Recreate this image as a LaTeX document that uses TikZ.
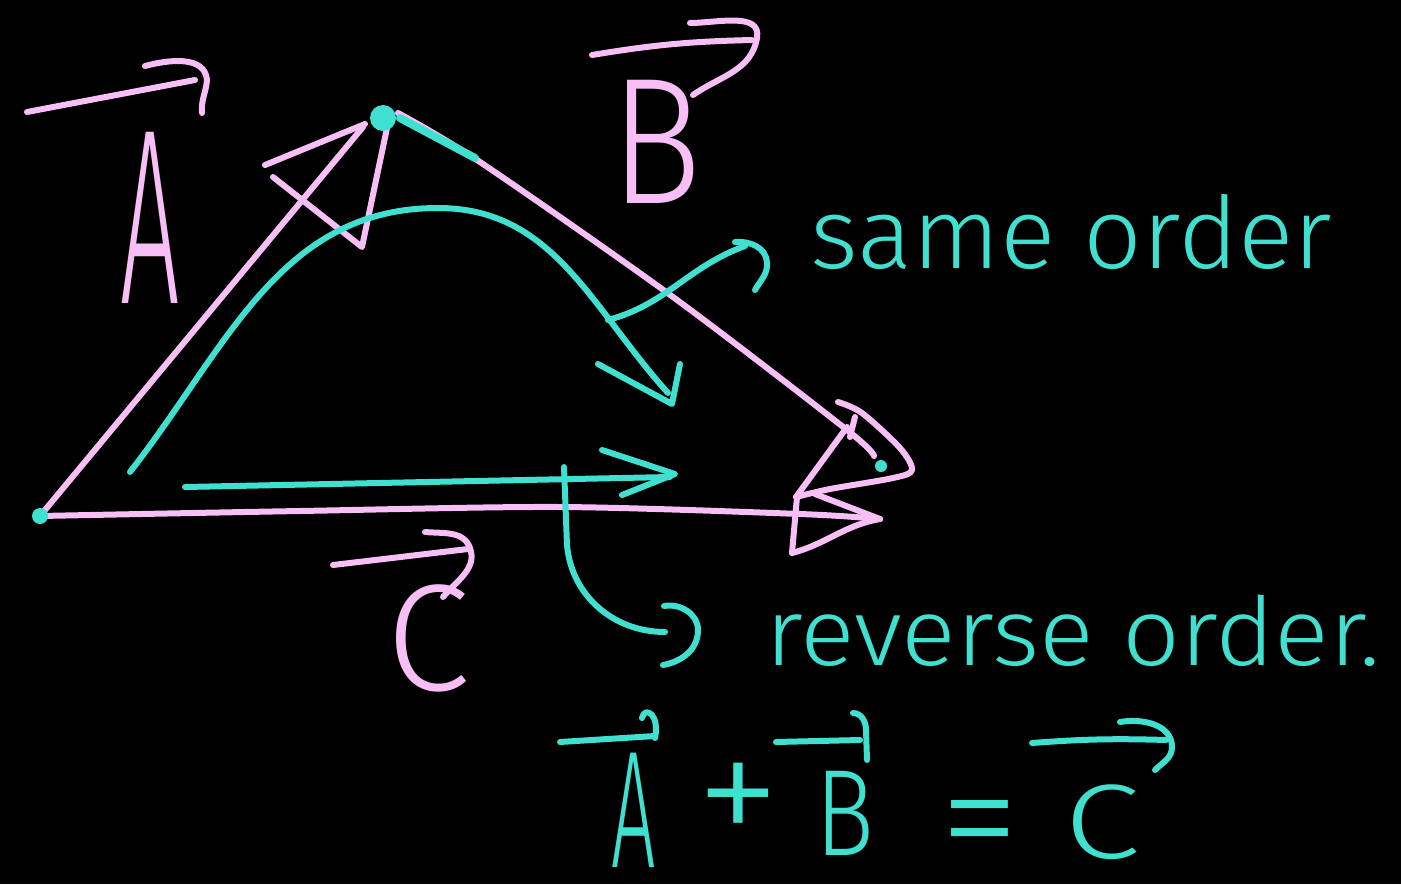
\documentclass[tikz,border=0pt]{standalone}
\usepackage{fontspec}
\IfFontExistsTF{Fira Sans Light}{\def\handname{Fira Sans Light}}{%
  \IfFontExistsTF{Lato Light}{\def\handname{Lato Light}}{%
    \IfFontExistsTF{Poppins Light}{\def\handname{Poppins Light}}{\def\handname{Fira Sans}}}}
\newfontfamily\hand{\handname}
\newfontfamily\handA{\handname}[FakeStretch=0.42]
\newfontfamily\handB{\handname}[FakeStretch=0.85]
\newfontfamily\handEA{\handname}[FakeStretch=0.47]
\newfontfamily\handEB{\handname}[FakeStretch=0.8]
\newfontfamily\handEC{\handname}[FakeStretch=1.3]
\newfontfamily\handR{\handname}[FakeStretch=1.07]
\newfontfamily\handS{\handname}[FakeStretch=1.03]
\definecolor{pinkc}{HTML}{F8BEF6}
\definecolor{tealc}{HTML}{3FE0CF}
\tikzset{
  pk/.style={draw=pinkc, line width=6pt, line cap=round, line join=round},
  tl/.style={draw=tealc, line width=6pt, line cap=round, line join=round},
  ptxt/.style={text=pinkc, inner sep=0pt},
  ttxt/.style={text=tealc, inner sep=0pt},
}
\begin{document}
\begin{tikzpicture}[x=1pt,y=-1pt]
\fill[black] (0,0) rectangle (1401,884);
\useasboundingbox (0,0) rectangle (1401,884);
% key points
\coordinate (O) at (40,516);
\coordinate (P) at (383,118);
\coordinate (Q) at (881,466);
\coordinate (R) at (880,519);
% pink triangle
\draw[pk] (O) -- (363,127);
\draw[pk] (265,165) -- (365,124);
\draw[pk] (273,177) -- (362,247) -- (387,128);
\draw[pk] plot[smooth] coordinates {(398,113) (480,162) (673,297) (847,430) (874,456)};
\draw[pk] plot[smooth] coordinates {(838,402) (862,413) (900,448) (912,470) (893,478) (830,489) (796,497)};
\draw[pk] (796,497) -- (847,427);
\draw[pk] (855,417) -- (850,437);
\draw[pk] plot[smooth] coordinates {(O) (300,511) (560,507) (800,514) (R)};
\draw[pk] (815,494) -- (R);
\draw[pk] (R) to[out=190,in=15] (792,553);
\draw[pk] (797,497) -- (792,553);
% pink vector labels
\draw[pk] (27,112) -- (195,80);
\draw[pk] (145,66) to[out=15,in=95] (207,80) to[out=-95,in=95] (202,113);
\node[ptxt, font=\handA\fontsize{250}{250}\selectfont] (lA) at (150,218) {A};
\draw[pk] (592,55) to[bend left=4] (752,40);
\draw[pk] (690,23) to[out=0,in=80] (757,38) to[out=-100,in=35] (693,95);
\node[ptxt, font=\handB\fontsize{180}{180}\selectfont] (lB) at (656,142) {B};
\draw[pk] (333,565) -- (468,549);
\draw[pk] (425,532) to[out=-5,in=110] (470,548) to[out=-70,in=50] (443,597);
\node[ptxt, font=\hand\fontsize{152}{152}\selectfont] (lC) at (428,638) {C};
% teal
\fill[tealc] (O) circle (8);
\fill[tealc] (P) circle (13);
\fill[tealc] (Q) circle (6);
\draw[tl, line width=8pt] (400,118) -- (475,158);
\draw[tl] (130,472) to[out=52,in=180] (438,208) to[out=0,in=132] (668,393);
\draw[tl] (598,364) -- (672,404) -- (680,364);
\draw[tl] (185,487) -- (670,477);
\draw[tl] (602,450) -- (675,474) -- (622,495);
\draw[tl] (608,320) to[out=15,in=200] (745,246);
\draw[tl] (735,242) to[out=5,in=95] (767,262) to[out=-85,in=60] (755,290);
\node[ttxt, font=\handS\fontsize{100}{100}\selectfont, anchor=base west] (so) at (810,268) {same order};
\draw[tl] (564,467) -- (567,545) to[out=-85,in=180] (665,632);
\draw[tl] (664,606) to[out=10,in=90] (698,630) to[out=-90,in=10] (663,665);
\node[ttxt, font=\handR\fontsize{95}{95}\selectfont, anchor=base west] (ro) at (765,665) {reverse order.};
% equation
\node[ttxt, font=\handEA\fontsize{167}{167}\selectfont] (eA) at (634,810) {A};
\draw[tl] (560,742) -- (655,736);
\draw[tl] (655,738) .. controls (660,715) and (645,705) .. (642,718);
\node[ttxt, font=\hand\fontsize{170}{170}\selectfont] (plus) at (738,806) {+};
\node[ttxt, font=\handEB\fontsize{123}{123}\selectfont] (eB) at (845,813) {B};
\draw[tl] (776,742) -- (860,740);
\draw[tl] (853,713) to[out=0,in=90] (866,730) -- (867,760);
\node[ttxt, font=\hand\fontsize{160}{160}\selectfont] (eq) at (980,836) {=};
\node[ttxt, font=\handEC\fontsize{106}{106}\selectfont] (eC) at (1102,822) {C};
\draw[tl] (1032,743) to[bend left=3] (1166,740);
\draw[tl] (1120,722) to[out=10,in=90] (1172,747) to[out=-90,in=45] (1155,770);
\end{tikzpicture}
\end{document}
